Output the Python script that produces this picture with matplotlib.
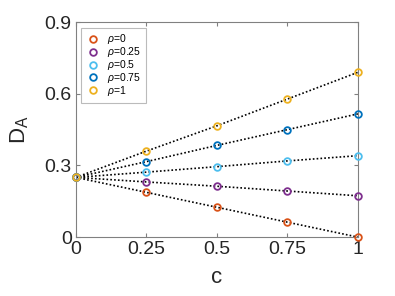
import numpy as np
import matplotlib
matplotlib.use('Agg')
import matplotlib.pyplot as plt

plt.rcParams['font.family'] = ['Liberation Sans', 'DejaVu Sans']
plt.rcParams['mathtext.fontset'] = 'custom'
plt.rcParams['mathtext.it'] = 'Liberation Sans:italic'
plt.rcParams['mathtext.rm'] = 'Liberation Sans'

# data
c = [0, 0.25, 0.5, 0.75, 1]
rho_labels = ['0', '0.25', '0.5', '0.75', '1']
d_rho0 = [0.25, 0.1875, 0.125, 0.0625, 0.0]
d_rho025 = [0.25, 0.231, 0.213, 0.193, 0.173]
d_rho05 = [0.25, 0.272, 0.295, 0.319, 0.341]
d_rho075 = [0.25, 0.316, 0.384, 0.450, 0.516]
d_rho1 = [0.25, 0.360, 0.466, 0.578, 0.690]
series = [d_rho0, d_rho025, d_rho05, d_rho075, d_rho1]

colors = ['#D95319', '#7E2F8E', '#4DBEEE', '#0072BD', '#EDB120']
xticks = [0, 0.25, 0.5, 0.75, 1]
xticklabels = ['0', '0.25', '0.5', '0.75', '1']
yticks = [0, 0.3, 0.6, 0.9]
yticklabels = ['0', '0.3', '0.6', '0.9']

fig = plt.figure(figsize=(3.95, 2.96), dpi=100)
ax = fig.add_axes([0.192, 0.199, 0.714, 0.726])

# dotted fit lines first, markers on top
for d in series:
    ax.plot(c, d, color='k', lw=1.2, ls=(0, (1, 1.3)), zorder=2)
for d, col, lab in zip(series, colors, rho_labels):
    ax.plot(c, d, 'o', mfc='none', mec=col, mew=1.3, ms=4.8,
            label=r'$\rho$=' + lab, zorder=3, clip_on=False)

ax.set_xlim(0, 1)
ax.set_ylim(0, 0.9)
ax.set_xticks(xticks)
ax.set_xticklabels(xticklabels)
ax.set_yticks(yticks)
ax.set_yticklabels(yticklabels)

gray = '#808080'
for s in ax.spines.values():
    s.set_color(gray)
    s.set_linewidth(0.8)
ax.tick_params(direction='in', length=3, color=gray, labelsize=14,
               labelcolor='#262626', top=True, right=True, pad=3)

ax.set_xlabel('c', fontsize=16, color='#262626', labelpad=6)
ax.set_ylabel(r'D$_\mathrm{A}$', fontsize=16, color='#262626', labelpad=10)

leg = ax.legend(loc='upper left', fontsize=7.5, frameon=True, fancybox=False,
                bbox_to_anchor=(0.017, 0.975),
                borderaxespad=0.0, handletextpad=0.6, handlelength=1.5,
                labelspacing=-0.1, borderpad=0.45)
leg.get_frame().set_edgecolor('#aaaaaa')
leg.get_frame().set_linewidth(0.8)

fig.savefig('out.png', dpi=100)
